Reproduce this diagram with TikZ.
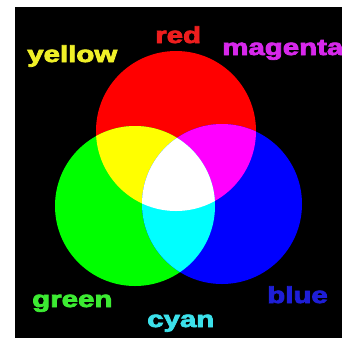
\documentclass[tikz,border=0pt]{standalone}
\usepackage{fontspec}
\setmainfont{Liberation Sans}
\newfontfamily\heavyfont{Liberation Sans}[BoldFeatures={FakeBold=3}]
\definecolor{discred}{RGB}{255,0,0}
\definecolor{discgreen}{RGB}{0,255,0}
\definecolor{discblue}{RGB}{0,0,255}
\definecolor{mixyellow}{RGB}{255,255,0}
\definecolor{mixmagenta}{RGB}{255,0,255}
\definecolor{mixcyan}{RGB}{0,255,255}
\definecolor{mixwhite}{RGB}{255,255,255}
\definecolor{lblyellow}{RGB}{240,240,40}
\definecolor{lblred}{RGB}{238,30,30}
\definecolor{lblmagenta}{RGB}{215,40,235}
\definecolor{lblgreen}{RGB}{60,235,50}
\definecolor{lblcyan}{RGB}{60,225,235}
\definecolor{lblblue}{RGB}{30,30,215}
\begin{document}
\begin{tikzpicture}[
  x=1pt, y=-1pt,
  % Label style
  colorname/.style={font=\heavyfont\bfseries\fontsize{23}{23}\selectfont, anchor=base west, inner sep=0pt, xscale=1.28},
  % Disc style
  disc/.style={radius=80pt}
]

% ------------------------------------------------------------
% Frame: white margin, black panel
% ------------------------------------------------------------
\useasboundingbox (0,0) rectangle (342,338);
\clip (0,0) rectangle (342,338);
\fill[white] (0,0) rectangle (342,338);
\fill[black] (15,7) rectangle (342,338);

% Disc centres
\coordinate (R) at (176,131);
\coordinate (G) at (135,206);
\coordinate (B) at (222,204);

% ------------------------------------------------------------
% Primary discs
% ------------------------------------------------------------
\fill[discred]   (R) circle[disc];
\fill[discgreen] (G) circle[disc];
\fill[discblue]  (B) circle[disc];

% Pairwise overlaps (additive mixing)
\begin{scope}
  \clip (R) circle[disc];
  \fill[mixyellow]  (G) circle[disc];
  \fill[mixmagenta] (B) circle[disc];
\end{scope}
\begin{scope}
  \clip (G) circle[disc];
  \fill[mixcyan] (B) circle[disc];
\end{scope}

% Triple overlap
\begin{scope}
  \clip (R) circle[disc];
  \clip (G) circle[disc];
  \fill[mixwhite] (B) circle[disc];
\end{scope}

% ------------------------------------------------------------
% Colour names
% ------------------------------------------------------------
\node[colorname, text=lblyellow]  (yellowlbl)  at (27,62)  {yellow};
\node[colorname, text=lblred]     (redlbl)     at (155,43) {red};
\node[colorname, text=lblmagenta] (magentalbl) at (222,55) {magenta};
\node[colorname, text=lblgreen]   (greenlbl)   at (32,307) {green};
\node[colorname, text=lblcyan]    (cyanlbl)    at (147,327) {cyan};
\node[colorname, text=lblblue]    (bluelbl)    at (267,303) {blue};

\end{tikzpicture}
\end{document}
